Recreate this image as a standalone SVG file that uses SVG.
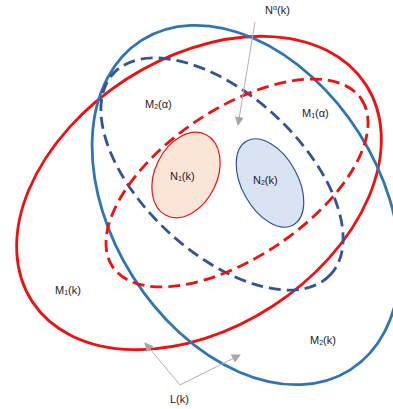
<svg xmlns="http://www.w3.org/2000/svg" width="393" height="409" viewBox="0 0 393 409">
<defs>
<style>
.lbl{font-family:"Liberation Sans","Noto Sans",sans-serif;font-size:11px;fill:#222}
.sub{font-size:7px}
.red{fill:none;stroke:#f01010;stroke-width:2.8}
.blue{fill:none;stroke:#2e75b6;stroke-width:2.8}
.rdash{fill:none;stroke:#f01010;stroke-width:2.8;stroke-dasharray:12 6}
.bdash{fill:none;stroke:#2f5597;stroke-width:2.8;stroke-dasharray:12 6}
.ptr{fill:none;stroke:#b0b0b0;stroke-width:1;marker-end:url(#ah)}
</style>
<marker id="ah" viewBox="0 0 10 10" refX="9" refY="5" markerWidth="9" markerHeight="9" markerUnits="userSpaceOnUse" orient="auto">
<path d="M0,0 L10,5 L0,10 Z" fill="#a6a6a6"/>
</marker>
</defs>
<rect width="393" height="409" fill="#fff"/>
<g id="M1k"><ellipse class="red" cx="199" cy="193" rx="199" ry="135" transform="rotate(-33 199 193)"/></g>
<g id="M2k"><ellipse class="blue" cx="246" cy="205" rx="195" ry="134" transform="rotate(57.7 246 205)"/></g>
<g id="M1a"><ellipse class="bdash" cx="222" cy="174" rx="148" ry="79" transform="rotate(42.8 222 174)"/></g>
<g id="M2a"><ellipse class="rdash" cx="237" cy="183" rx="150" ry="74" transform="rotate(-34 237 183)"/></g>
<g id="N1k"><ellipse cx="186" cy="175" rx="31" ry="45" fill="#fbe5d6" stroke="#f01010" stroke-width="1.2" transform="rotate(26 186 175)"/>
<text class="lbl" x="170" y="180">N<tspan class="sub" dy="1">1</tspan><tspan dy="-1">(k)</tspan></text></g>
<g id="N2k"><ellipse cx="270" cy="183" rx="28" ry="48" fill="#dae3f3" stroke="#2f5597" stroke-width="1.2" transform="rotate(-29 270 183)"/>
<text class="lbl" x="253" y="184">N<tspan class="sub" dy="1">2</tspan><tspan dy="-1">(k)</tspan></text></g>
<g id="connectors">
<path class="ptr" d="M255,22 L238,125"/>
<path class="ptr" d="M180,385 L145,343"/>
<path class="ptr" d="M180,385 L240,355"/>
</g>
<g id="labels">
<text class="lbl" x="265" y="14">N<tspan class="sub" dy="-4">α</tspan><tspan dy="4">(k)</tspan></text>
<text class="lbl" x="145" y="108">M<tspan class="sub" dy="1">2</tspan><tspan dy="-1">(α)</tspan></text>
<text class="lbl" x="302" y="117">M<tspan class="sub" dy="1">1</tspan><tspan dy="-1">(α)</tspan></text>
<text class="lbl" x="55" y="294">M<tspan class="sub" dy="1">1</tspan><tspan dy="-1">(k)</tspan></text>
<text class="lbl" x="310" y="344">M<tspan class="sub" dy="1">2</tspan><tspan dy="-1">(k)</tspan></text>
<text class="lbl" x="170" y="403">L(k)</text>
</g>
</svg>
